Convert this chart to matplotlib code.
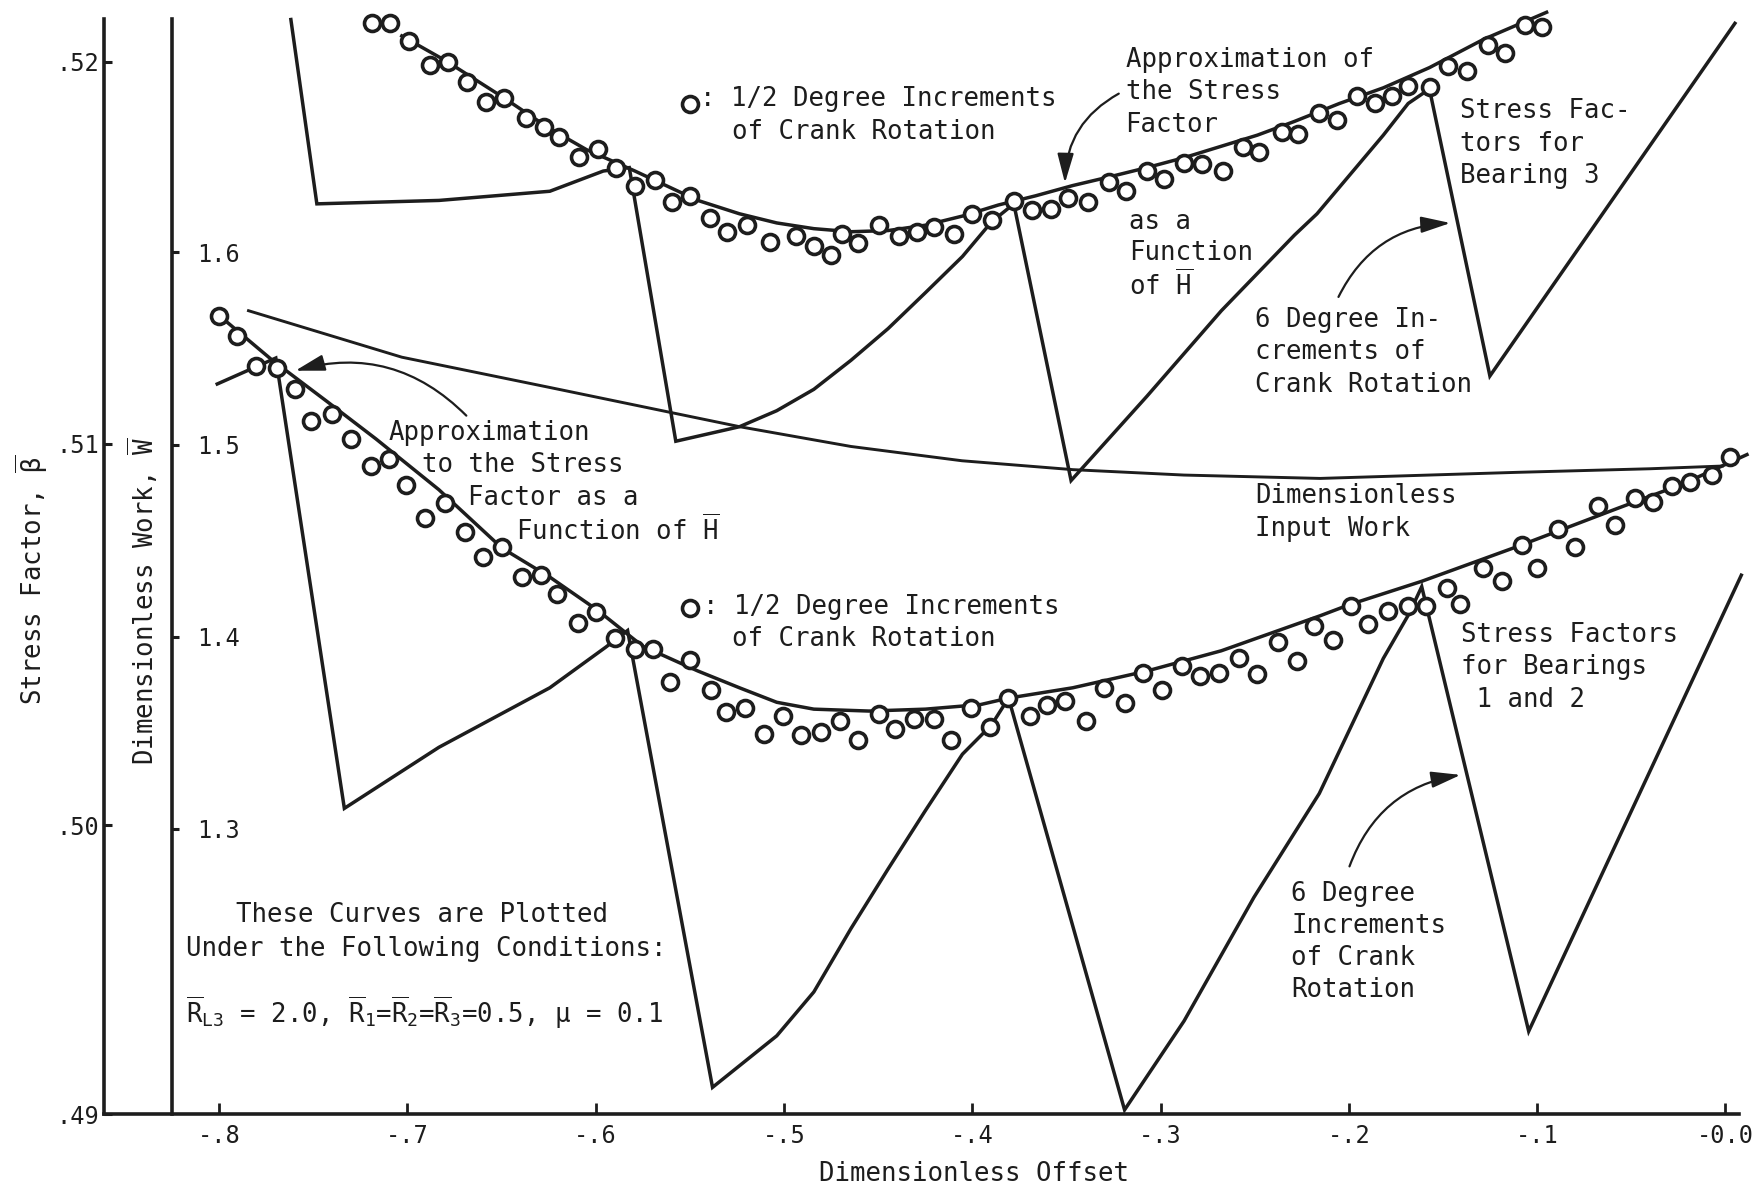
import matplotlib
matplotlib.use("Agg")
import matplotlib.pyplot as plt
from matplotlib.patches import FancyArrowPatch

plt.rcParams["font.family"] = ["DejaVu Sans Mono", "DejaVu Sans"]
plt.rcParams["mathtext.fontset"] = "custom"
plt.rcParams["mathtext.rm"] = "DejaVu Sans Mono"
plt.rcParams["mathtext.it"] = "DejaVu Sans Mono"
plt.rcParams["mathtext.bf"] = "DejaVu Sans Mono"

INK = "#1d1d1d"
FS = 18.5

# axis ticks
offset_ticks = [-0.8, -0.7, -0.6, -0.5, -0.4, -0.3, -0.2, -0.1, 0.0]
offset_labels = ["-.8", "-.7", "-.6", "-.5", "-.4", "-.3", "-.2", "-.1", "-0.0"]
beta_ticks = [0.49242, 0.50, 0.51, 0.52]      # .49 sits on the bottom rule
beta_labels = [".49", ".50", ".51", ".52"]
work_ticks = [1.3, 1.4, 1.5, 1.6]
work_labels = ["1.3", "1.4", "1.5", "1.6"]

# bearing 3: stress factor at 1/2 degree crank increments
b3_half_x = [-0.7185, -0.7091, -0.6989, -0.6881, -0.6782, -0.6684, -0.6580, -0.6488, -0.6370, -0.6272,
             -0.6194, -0.6086, -0.5987, -0.5889, -0.5791, -0.5683, -0.5594, -0.5496, -0.5394, -0.5300,
             -0.5194, -0.5076, -0.4938, -0.4840, -0.4752, -0.4693, -0.4604, -0.4497, -0.4389, -0.4294,
             -0.4202, -0.4098, -0.4000, -0.3894, -0.3779, -0.3681, -0.3583, -0.3489, -0.3387, -0.3273,
             -0.3181, -0.3072, -0.2984, -0.2876, -0.2778, -0.2669, -0.2562, -0.2477, -0.2357, -0.2268,
             -0.2161, -0.2065, -0.1959, -0.1862, -0.1773, -0.1684, -0.1570, -0.1472, -0.1375, -0.1260,
             -0.1171, -0.1065, -0.0977]
b3_half_beta = [0.52101, 0.52101, 0.52055, 0.51991, 0.52001, 0.51947, 0.51894, 0.51905, 0.51853, 0.51830,
                0.51802, 0.51750, 0.51771, 0.51722, 0.51676, 0.51690, 0.51634, 0.51649, 0.51591, 0.51554,
                0.51572, 0.51528, 0.51545, 0.51517, 0.51493, 0.51549, 0.51526, 0.51573, 0.51545, 0.51554,
                0.51568, 0.51549, 0.51601, 0.51587, 0.51636, 0.51612, 0.51615, 0.51643, 0.51634, 0.51685,
                0.51662, 0.51715, 0.51694, 0.51736, 0.51732, 0.51715, 0.51778, 0.51764, 0.51816, 0.51812,
                0.51865, 0.51849, 0.51910, 0.51891, 0.51910, 0.51938, 0.51933, 0.51989, 0.51976, 0.52045,
                0.52022, 0.52097, 0.52092]

# bearing 3: approximation as a function of H
b3_fit_x = [-0.7029, -0.6796, -0.6497, -0.6246, -0.6048, -0.5791, -0.5457, -0.5236, -0.5038, -0.4841,
            -0.4644, -0.4447, -0.4249, -0.4052, -0.3861, -0.3664, -0.3466, -0.3269, -0.3072, -0.2875,
            -0.2677, -0.2486, -0.2289, -0.2050, -0.1817, -0.1572, -0.1285, -0.0950]
b3_fit_beta = [0.52068, 0.52003, 0.51909, 0.51826, 0.51770, 0.51714, 0.51637, 0.51602, 0.51578, 0.51563,
               0.51555, 0.51558, 0.51572, 0.51596, 0.51625, 0.51649, 0.51676, 0.51699, 0.51723, 0.51749,
               0.51779, 0.51808, 0.51844, 0.51891, 0.51932, 0.51985, 0.52059, 0.52130]

# bearing 3: 6 degree crank increments
b3_six_x = [-0.7618, -0.7480, -0.6831, -0.6243, -0.5959, -0.5821, -0.5574, -0.5236, -0.5038, -0.4841,
            -0.4644, -0.4447, -0.4249, -0.4052, -0.3897, -0.3779, -0.3475, -0.3072, -0.2677, -0.2289,
            -0.2169, -0.1817, -0.1685, -0.1572, -0.1251, 0.0050]
b3_six_beta = [0.52111, 0.51628, 0.51637, 0.51661, 0.51714, 0.51723, 0.51006, 0.51044, 0.51086, 0.51142,
               0.51218, 0.51301, 0.51395, 0.51490, 0.51581, 0.51628, 0.50903, 0.51124, 0.51348, 0.51546,
               0.51602, 0.51808, 0.51891, 0.51929, 0.51177, 0.52101]

# bearings 1 and 2: stress factor at 1/2 degree crank increments
b12_half_x = [-0.8001, -0.7903, -0.7804, -0.7692, -0.7598, -0.7509, -0.7402, -0.7300, -0.7195, -0.7097,
              -0.7008, -0.6906, -0.6802, -0.6694, -0.6596, -0.6498, -0.6390, -0.6292, -0.6203, -0.6095,
              -0.5997, -0.5899, -0.5791, -0.5693, -0.5604, -0.5496, -0.5388, -0.5310, -0.5207, -0.5105,
              -0.5007, -0.4909, -0.4801, -0.4703, -0.4604, -0.4497, -0.4408, -0.4310, -0.4201, -0.4114,
              -0.4005, -0.3907, -0.3809, -0.3691, -0.3603, -0.3505, -0.3396, -0.3298, -0.3190, -0.3092,
              -0.2993, -0.2886, -0.2788, -0.2689, -0.2582, -0.2486, -0.2378, -0.2277, -0.2184, -0.2083,
              -0.1986, -0.1897, -0.1791, -0.1684, -0.1588, -0.1481, -0.1410, -0.1286, -0.1189, -0.1083,
              -0.1003, -0.0888, -0.0800, -0.0675, -0.0588, -0.0481, -0.0384, -0.0286, -0.0189, -0.0074,
              0.0023]
b12_half_beta = [0.51334, 0.51283, 0.51203, 0.51198, 0.51144, 0.51058, 0.51077, 0.51013, 0.50941, 0.50960,
                 0.50891, 0.50805, 0.50843, 0.50768, 0.50702, 0.50730, 0.50650, 0.50655, 0.50607, 0.50529,
                 0.50558, 0.50490, 0.50461, 0.50461, 0.50374, 0.50432, 0.50355, 0.50296, 0.50306, 0.50238,
                 0.50287, 0.50235, 0.50243, 0.50272, 0.50224, 0.50291, 0.50253, 0.50277, 0.50277, 0.50224,
                 0.50306, 0.50258, 0.50332, 0.50287, 0.50316, 0.50325, 0.50272, 0.50359, 0.50321, 0.50398,
                 0.50355, 0.50418, 0.50391, 0.50398, 0.50437, 0.50395, 0.50479, 0.50431, 0.50521, 0.50484,
                 0.50573, 0.50526, 0.50561, 0.50573, 0.50573, 0.50621, 0.50579, 0.50674, 0.50639, 0.50734,
                 0.50674, 0.50775, 0.50728, 0.50835, 0.50787, 0.50858, 0.50847, 0.50888, 0.50900, 0.50918,
                 0.50965]

# bearings 1 and 2: approximation as a function of H
b12_fit_x = [-0.7952, -0.7716, -0.7423, -0.7166, -0.6832, -0.6497, -0.6243, -0.5989, -0.5750, -0.5457,
             -0.5236, -0.5038, -0.4841, -0.4548, -0.4249, -0.3956, -0.3807, -0.3466, -0.3072, -0.2677,
             -0.2151, -0.1996, -0.1613, -0.1111, -0.0579, -0.0227, 0.0114]
b12_fit_beta = [0.51316, 0.51218, 0.51109, 0.51012, 0.50879, 0.50726, 0.50650, 0.50563, 0.50469, 0.50404,
                0.50360, 0.50322, 0.50304, 0.50299, 0.50304, 0.50316, 0.50333, 0.50360, 0.50404, 0.50457,
                0.50549, 0.50578, 0.50639, 0.50729, 0.50829, 0.50894, 0.50971]

# bearings 1 and 2: 6 degree crank increments
b12_six_x = [-0.8009, -0.7698, -0.7334, -0.6832, -0.6243, -0.5947, -0.5830, -0.5379, -0.5038, -0.4841,
             -0.4644, -0.4447, -0.4249, -0.4052, -0.3897, -0.3807, -0.3191, -0.2875, -0.2504, -0.2157,
             -0.1817, -0.1679, -0.1613, -0.1045, 0.0084]
b12_six_beta = [0.51156, 0.51224, 0.50044, 0.50204, 0.50360, 0.50466, 0.50510, 0.49313, 0.49448, 0.49563,
                0.49729, 0.49885, 0.50038, 0.50186, 0.50263, 0.50333, 0.49254, 0.49487, 0.49811, 0.50083,
                0.50437, 0.50555, 0.50625, 0.49460, 0.50655]

# dimensionless input work
work_x = [-0.7843, -0.7029, -0.6243, -0.5555, -0.5233, -0.4644, -0.4054, -0.3465, -0.2876, -0.2153,
          -0.1109, -0.0401, -0.0017]
work_w = [1.56971, 1.54552, 1.52976, 1.51582, 1.50931, 1.49906, 1.49162, 1.48699, 1.48418, 1.48243,
          1.48559, 1.48746, 1.48887]

fig = plt.figure(figsize=(17.65, 11.91), dpi=100)
fig.patch.set_facecolor("white")
ax = fig.add_axes([0.05867, 0.06427, 0.92666, 0.91966])
ax.set_xlim(-0.86127, 0.00723)
ax.set_ylim(0.49242, 0.52112)

axw = ax.twinx()
axw.set_ylim(1.15144, 1.72144)

line_kw = dict(color=INK, lw=2.5, clip_on=False, solid_joinstyle="miter")
dot_kw = dict(ls="none", marker="o", ms=11.5, mew=2.6, mec=INK, mfc="white", clip_on=False, zorder=5)

ax.plot(b3_six_x, b3_six_beta, **line_kw)
ax.plot(b3_fit_x, b3_fit_beta, **line_kw)
ax.plot(b3_half_x, b3_half_beta, **dot_kw)

ax.plot(b12_six_x, b12_six_beta, **line_kw)
ax.plot(b12_fit_x, b12_fit_beta, **line_kw)
ax.plot(b12_half_x, b12_half_beta, **dot_kw)

axw.plot(work_x, work_w, color=INK, lw=2.1, clip_on=False)

# spines and ticks
for side in ["top", "right"]:
    ax.spines[side].set_visible(False)
for side in ["left", "bottom"]:
    ax.spines[side].set_linewidth(2.6)
    ax.spines[side].set_color(INK)
for side in ["top", "left", "bottom"]:
    axw.spines[side].set_visible(False)
axw.spines["right"].set_position(("data", -0.8248))
axw.spines["right"].set_linewidth(2.6)
axw.spines["right"].set_color(INK)

ax.set_xticks(offset_ticks)
ax.set_xticklabels(offset_labels)
ax.set_yticks(beta_ticks)
ax.set_yticklabels(beta_labels)
axw.set_yticks(work_ticks)
axw.set_yticklabels(work_labels)

ax.tick_params(axis="x", direction="in", length=8, width=2, pad=7, labelsize=17, colors=INK)
ax.tick_params(axis="y", direction="in", length=6, width=2.2, pad=3, labelsize=17, colors=INK)
axw.tick_params(axis="y", direction="out", length=5, width=2.2, pad=13, labelsize=17, colors=INK)

# axis titles
fig.text(0.5517, 0.0142, "Dimensionless Offset", fontsize=FS, color=INK, ha="center", va="center")
fig.text(0.0179, 0.5132, r"Stress Factor, $\overline{\beta}$", fontsize=FS, color=INK,
         rotation=90, ha="center", va="center")
fig.text(0.0810, 0.4953, r"Dimensionless Work, $\overline{\mathrm{W}}$", fontsize=FS, color=INK,
         rotation=90, ha="center", va="center")


def block(lines, fx, fy, step=0.0296, ha="left"):
    for i, s in enumerate(lines):
        ax.text(fx, fy - i * step, s, transform=ax.transAxes, fontsize=FS, color=INK,
                ha=ha, va="center", zorder=6)


H = r"$\overline{\mathrm{H}}$"

# legends for the circles
for fy in (0.9229, 0.4625):
    ax.plot([0.3586], [fy], transform=ax.transAxes, **dot_kw)
block([": 1/2 Degree Increments"], 0.3648, 0.9270)
block(["of Crank Rotation"], 0.3840, 0.8972)
block([": 1/2 Degree Increments"], 0.3668, 0.4635)
block(["of Crank Rotation"], 0.3840, 0.4337)

# upper group labels
block(["Approximation of", "the Stress", "Factor"], 0.6249, 0.9630)
block(["as a", "Function", "of " + H], 0.6270, 0.8150, step=0.0288)
block(["Stress Fac-", "tors for", "Bearing 3"], 0.8293, 0.9157)
block(["6 Degree In-", "crements of", "Crank Rotation"], 0.7041, 0.7256)
block(["Dimensionless", "Input Work"], 0.7041, 0.5642)

# lower group labels
block(["Approximation"], 0.1741, 0.6218)
block(["to the Stress"], 0.1948, 0.5930)
block(["Factor as a"], 0.2230, 0.5632)
block(["Function of " + H], 0.2519, 0.5334)
block(["Stress Factors", "for Bearings", " 1 and 2"], 0.8300, 0.4378)
block(["6 Degree", "Increments", "of Crank", "Rotation"], 0.7261, 0.2014, step=0.0294)

# operating conditions
block(["These Curves are Plotted"], 0.1948, 0.1819, ha="center")
block(["Under the Following Conditions:"], 0.0502, 0.1511)
block([r"$\overline{\mathrm{R}}_{\mathrm{L3}}$ = 2.0, $\overline{\mathrm{R}}_1$=$\overline{\mathrm{R}}_2$"
       r"=$\overline{\mathrm{R}}_3$=0.5, $\mu$ = 0.1"], 0.0502, 0.0925)

# curved pointer arrows
arrows = [((0.6222, 0.9332), (0.5878, 0.8479), 0.3),
          ((0.7543, 0.7441), (0.8252, 0.8140), -0.3),
          ((0.2230, 0.6362), (0.1156, 0.6783), 0.3),
          ((0.7612, 0.2241), (0.8314, 0.3104), -0.3)]
for start, end, rad in arrows:
    ax.add_patch(FancyArrowPatch(start, end, transform=ax.transAxes,
                                 connectionstyle=f"arc3,rad={rad}",
                                 arrowstyle="-|>,head_length=0.9,head_width=0.25",
                                 mutation_scale=20, lw=1.6, color=INK, zorder=6))

fig.savefig("out.png", dpi=100, facecolor="white")
